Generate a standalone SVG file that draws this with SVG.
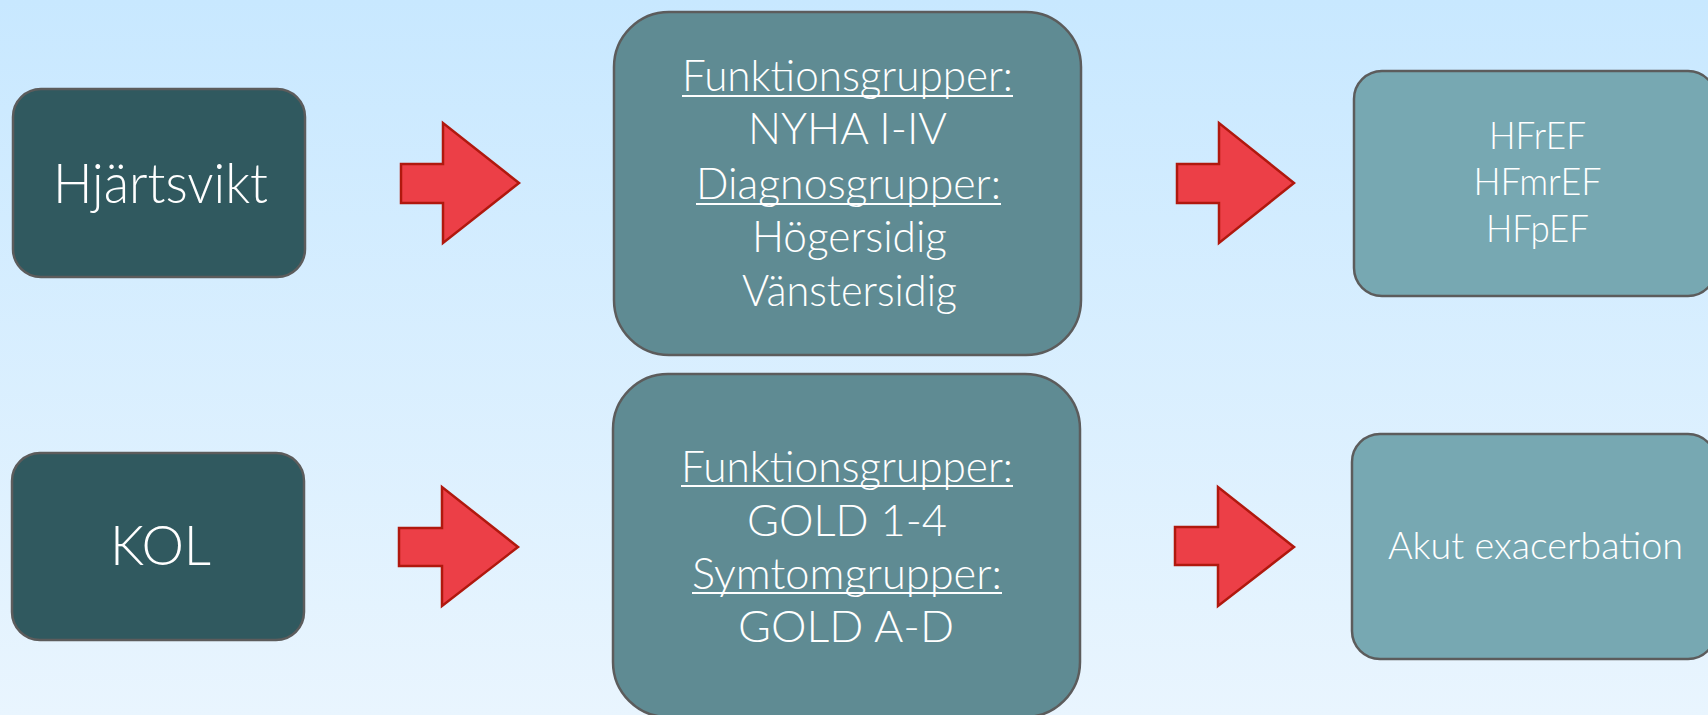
<svg xmlns="http://www.w3.org/2000/svg" width="1708" height="715" viewBox="0 0 1708 715">
<defs>
<linearGradient id="bg" x1="0" y1="0" x2="0" y2="1">
<stop offset="0" stop-color="#c8e8ff"/>
<stop offset="1" stop-color="#e9f5fe"/>
</linearGradient>
</defs>
<style>
.box{stroke:#5c5c5c;stroke-width:2.5}
.dark{fill:#30595f}
.mid{fill:#5f8b93}
.light{fill:#77a8b2}
.arrow{fill:#ec3f47;stroke:#b0180e;stroke-width:2.5;stroke-linejoin:miter}
text{font-family:"Lato","Liberation Sans",sans-serif;font-weight:300;fill:#ffffff;text-anchor:middle}
.big{font-size:55px}
.mt{font-size:43px}
.rt{font-size:38px}
.ul{stroke:#ffffff;stroke-width:2}
</style>
<rect x="0" y="0" width="1708" height="715" fill="url(#bg)"/>
<g id="connectors">
<polygon class="arrow" points="401,164 443,164 443,123 519,183 443,243 443,203 401,203"/>
<polygon class="arrow" points="1177,164 1219,164 1219,123 1294,183 1219,243 1219,203 1177,203"/>
<polygon class="arrow" points="399,528 442,528 442,487 518,547 442,606 442,566 399,566"/>
<polygon class="arrow" points="1175,527 1218,527 1218,487 1294,547 1218,606 1218,565 1175,565"/>
</g>
<g id="hjartsvikt">
<rect class="box dark" x="13" y="89" width="292" height="188" rx="28"/>
<text class="big" x="160.5" y="203" textLength="215" lengthAdjust="spacingAndGlyphs">Hjärtsvikt</text>
</g>
<g id="kol">
<rect class="box dark" x="12" y="453" width="292" height="187" rx="28"/>
<text class="big" x="160.5" y="565" textLength="101" lengthAdjust="spacingAndGlyphs">KOL</text>
</g>
<g id="hf-grupper">
<rect class="box mid" x="614" y="12" width="467" height="343" rx="55"/>
<text class="mt" x="847.5" y="91" textLength="331" lengthAdjust="spacingAndGlyphs">Funktionsgrupper:</text>
<line class="ul" x1="682" y1="96" x2="1013" y2="96"/>
<text class="mt" x="847.5" y="144" textLength="199" lengthAdjust="spacingAndGlyphs">NYHA I-IV</text>
<text class="mt" x="848.5" y="199" textLength="305" lengthAdjust="spacingAndGlyphs">Diagnosgrupper:</text>
<line class="ul" x1="696" y1="204" x2="1001" y2="204"/>
<text class="mt" x="849.5" y="252" textLength="195" lengthAdjust="spacingAndGlyphs">Högersidig</text>
<text class="mt" x="849.5" y="306" textLength="215" lengthAdjust="spacingAndGlyphs">Vänstersidig</text>
</g>
<g id="kol-grupper">
<rect class="box mid" x="613" y="374" width="467" height="343" rx="55"/>
<text class="mt" x="847" y="482" textLength="332" lengthAdjust="spacingAndGlyphs">Funktionsgrupper:</text>
<line class="ul" x1="681" y1="486" x2="1013" y2="486"/>
<text class="mt" x="847" y="536" textLength="200" lengthAdjust="spacingAndGlyphs">GOLD 1-4</text>
<text class="mt" x="847" y="589" textLength="310" lengthAdjust="spacingAndGlyphs">Symtomgrupper:</text>
<line class="ul" x1="692" y1="593" x2="1002" y2="593"/>
<text class="mt" x="846" y="642" textLength="216" lengthAdjust="spacingAndGlyphs">GOLD A-D</text>
</g>
<g id="hf-typer">
<rect class="box light" x="1354" y="71" width="362" height="225" rx="28"/>
<text class="rt" x="1537.5" y="149" textLength="97" lengthAdjust="spacingAndGlyphs">HFrEF</text>
<text class="rt" x="1537.5" y="195" textLength="128" lengthAdjust="spacingAndGlyphs">HFmrEF</text>
<text class="rt" x="1537.5" y="242" textLength="103" lengthAdjust="spacingAndGlyphs">HFpEF</text>
</g>
<g id="akut">
<rect class="box light" x="1352" y="434" width="364" height="225" rx="28"/>
<text class="rt" x="1535.5" y="559" textLength="295" lengthAdjust="spacingAndGlyphs">Akut exacerbation</text>
</g>
</svg>
